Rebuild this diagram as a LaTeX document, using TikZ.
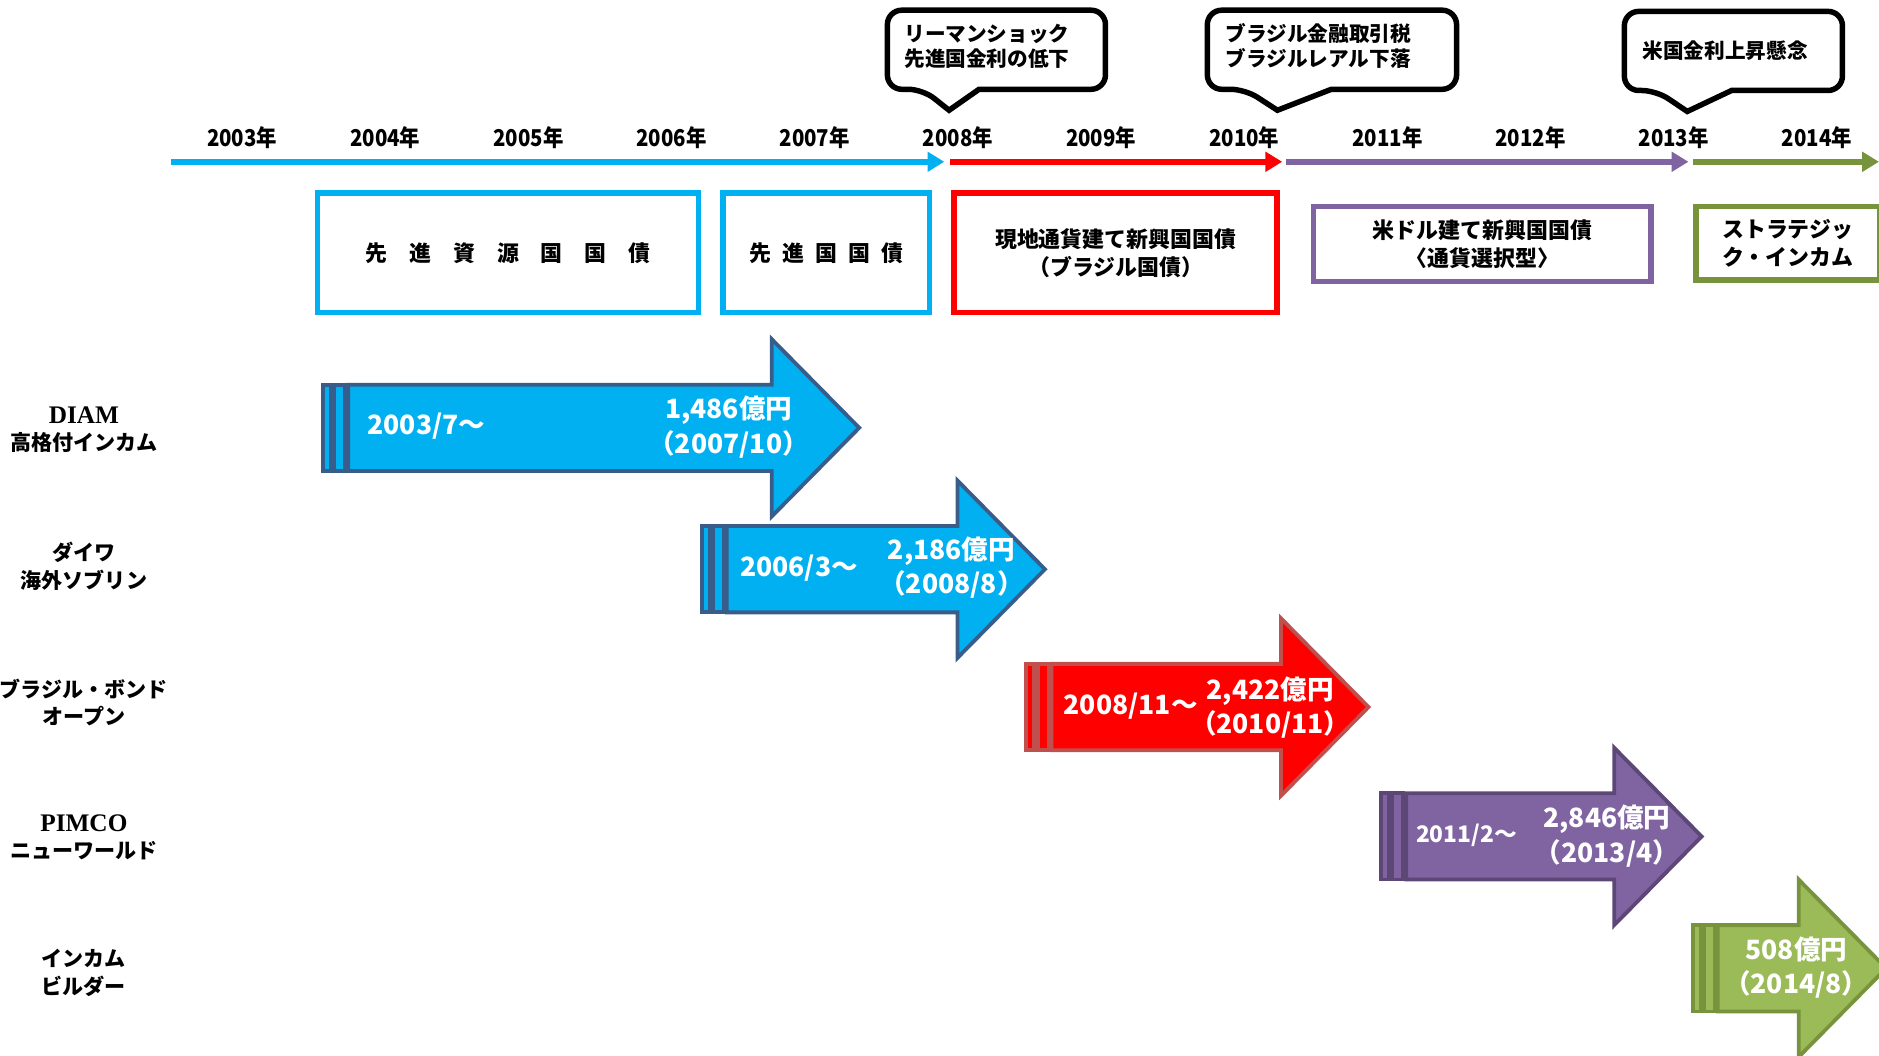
\documentclass[tikz,border=0pt]{standalone}
\usepackage{fontspec}
\setmainfont{Liberation Serif}
\newfontfamily\jp{Noto Sans CJK JP}
\newfontfamily\jpnarrow[FakeStretch=0.88]{Noto Sans CJK JP}
\usetikzlibrary{positioning,arrows.meta}
\definecolor{skyblue}{RGB}{0,176,240}
\definecolor{brightred}{RGB}{255,0,0}
\definecolor{lilac}{RGB}{128,100,162}
\definecolor{olivegreen}{RGB}{119,147,60}
\definecolor{leafgreen}{RGB}{155,187,89}
\definecolor{navyedge}{RGB}{56,93,138}
\definecolor{rededge}{RGB}{192,80,77}
\definecolor{lilacedge}{RGB}{92,71,118}
\newcommand\serifname[1]{{\rmfamily\fontsize{6}{6.5}\selectfont #1}}
\tikzset{eje/.style={line width=1.3pt, -{Triangle[length=1.4mm,width=1.6mm]}}}
\tikzset{anio/.style={font=\jpnarrow\bfseries\fontsize{5.5}{6}\selectfont, minimum width=1.194cm, inner sep=0pt, outer sep=0pt}}
\tikzset{caja/.style={draw, line width=1.3pt, font=\jp\bfseries\fontsize{5.2}{6.6}\selectfont, align=center, inner sep=0pt}}
\tikzset{globo/.style={draw=black, line width=1.3pt, fill=white}}
\tikzset{nota/.style={font=\jp\bfseries\fontsize{4.9}{6}\selectfont, align=left, anchor=west, inner sep=0pt}}
\tikzset{flecha/.style={line width=0.9pt, line join=miter}}
\tikzset{fecha/.style={font=\jp\bfseries\fontsize{6.3}{8.2}\selectfont, text=white, anchor=west, inner sep=0pt}}
\tikzset{monto/.style={font=\jp\bfseries\fontsize{6.3}{8.2}\selectfont, text=white, align=center, inner sep=0pt}}
\tikzset{fondo/.style={font=\jp\bfseries\fontsize{5}{6.5}\selectfont, align=center, inner sep=0pt}}
\begin{document}
\begin{tikzpicture}[x=0.01cm, y=-0.01cm]
\useasboundingbox (0,0) rectangle (1568,881);

\draw[globo] (792,92) -- (817,74.5) [rounded corners=1.2mm] -- (922.5,74.5) -- (922.5,8.5) -- (740.5,8.5) -- (740.5,74.5) -- (770,74.5) [sharp corners] -- cycle;
\draw[globo] (1066,92) -- (1111,74.5) [rounded corners=1.2mm] -- (1215.5,74.5) -- (1215.5,8.5) -- (1007.5,8.5) -- (1007.5,74.5) -- (1039,74.5) [sharp corners] -- cycle;
\draw[globo] (1408,93) -- (1445,75.5) [rounded corners=1.2mm] -- (1537.5,75.5) -- (1537.5,9.5) -- (1355.5,9.5) -- (1355.5,75.5) -- (1382,75.5) [sharp corners] -- cycle;
\node[nota] (g1) at (754,38.5) {リーマンショック\\先進国金利の低下};
\node[nota] (g2) at (1022,38.5) {ブラジル金融取引税\\ブラジルレアル下落};
\node[nota] (g3) at (1370,42) {米国金利上昇懸念};

\node[anio] (y2003) at (202,115) {2003年};
\node[anio, right=0pt of y2003] (y2004) {2004年};
\node[anio, right=0pt of y2004] (y2005) {2005年};
\node[anio, right=0pt of y2005] (y2006) {2006年};
\node[anio, right=0pt of y2006] (y2007) {2007年};
\node[anio, right=0pt of y2007] (y2008) {2008年};
\node[anio, right=0pt of y2008] (y2009) {2009年};
\node[anio, right=0pt of y2009] (y2010) {2010年};
\node[anio, right=0pt of y2010] (y2011) {2011年};
\node[anio, right=0pt of y2011] (y2012) {2012年};
\node[anio, right=0pt of y2012] (y2013) {2013年};
\node[anio, right=0pt of y2013] (y2014) {2014年};

\coordinate (t0) at (143,135);
\coordinate (t1) at (788,135);
\coordinate (t2) at (793,135);
\coordinate (t3) at (1070,135);
\coordinate (t4) at (1073,135);
\coordinate (t5) at (1409,135);
\coordinate (t6) at (1413,135);
\coordinate (t7) at (1568,135);
\draw[eje, skyblue] (t0) -- (t1);
\draw[eje, brightred] (t2) -- (t3);
\draw[eje, lilac] (t4) -- (t5);
\draw[eje, olivegreen] (t6) -- (t7);

\node[caja, draw=skyblue, minimum width=3.175cm, minimum height=0.995cm] (c1) at (424,211) {先\quad 進\quad 資\quad 源\quad 国\quad 国\quad 債};
\node[caja, draw=skyblue, minimum width=1.725cm, minimum height=0.995cm] (c2) at (689.5,211) {先\enspace 進\enspace 国\enspace 国\enspace 債};
\node[caja, draw=brightred, minimum width=2.695cm, minimum height=0.995cm] (c3) at (931,211) {現地通貨建て新興国国債\\（ブラジル国債）};
\node[caja, draw=lilac, minimum width=2.815cm, minimum height=0.625cm] (c4) at (1237,203.5) {米ドル建て新興国国債\\〈通貨選択型〉};
\node[caja, draw=olivegreen, minimum width=1.535cm, minimum height=0.615cm] (c5) at (1492,203) {ストラテジッ\\ク・インカム};

\foreach \xs/\xh/\yc/\fc/\bc in {268/644/357/skyblue/navyedge, 584/799/475/skyblue/navyedge, 855/1069/590/brightred/rededge, 1151/1347/698/lilac/lilacedge, 1411/1501/808/leafgreen/olivegreen} {
  \draw[flecha, fill=\fc, draw=\bc] (\xs+1.5,\yc-36) rectangle (\xs+8,\yc+36);
  \draw[flecha, fill=\fc, draw=\bc] (\xs+11,\yc-36) rectangle (\xs+20,\yc+36);
  \draw[flecha, fill=\fc, draw=\bc] (\xs+22.5,\yc-36) -- (\xh,\yc-36) -- (\xh,\yc-74) -- (\xh+73,\yc) -- (\xh,\yc+74) -- (\xh,\yc+36) -- (\xs+22.5,\yc+36) -- cycle;
}

\node[fecha] (s1) at (306,356) {2003/7〜};
\node[monto] (m1) at (608,356.5) {1,486億円\\（2007/10）};
\node[fecha] (s2) at (617,474) {2006/3〜};
\node[monto] (m2) at (794,473.5) {2,186億円\\（2008/8）};
\node[fecha] (s3) at (887,589) {2008/11〜};
\node[monto] (m3) at (1060,590.5) {2,422億円\\（2010/11）};
\node[fecha, font=\jp\bfseries\fontsize{5.4}{6.5}\selectfont] (s4) at (1181,697) {2011/2〜};
\node[monto] (m4) at (1341,697.5) {2,846億円\\（2013/4）};
\node[monto] (m5) at (1499,807.5) {508億円\\（2014/8）};

\node[fondo] (f1) at (70,358.5) {\serifname{DIAM}\\高格付インカム};
\node[fondo] (f2) at (70,472.5) {ダイワ\\海外ソブリン};
\node[fondo] (f3) at (70,586) {ブラジル・ボンド\\オープン};
\node[fondo] (f4) at (70,698.5) {\serifname{PIMCO}\\ニューワールド};
\node[fondo] (f5) at (70,812) {インカム\\ビルダー};
\end{tikzpicture}
\end{document}
